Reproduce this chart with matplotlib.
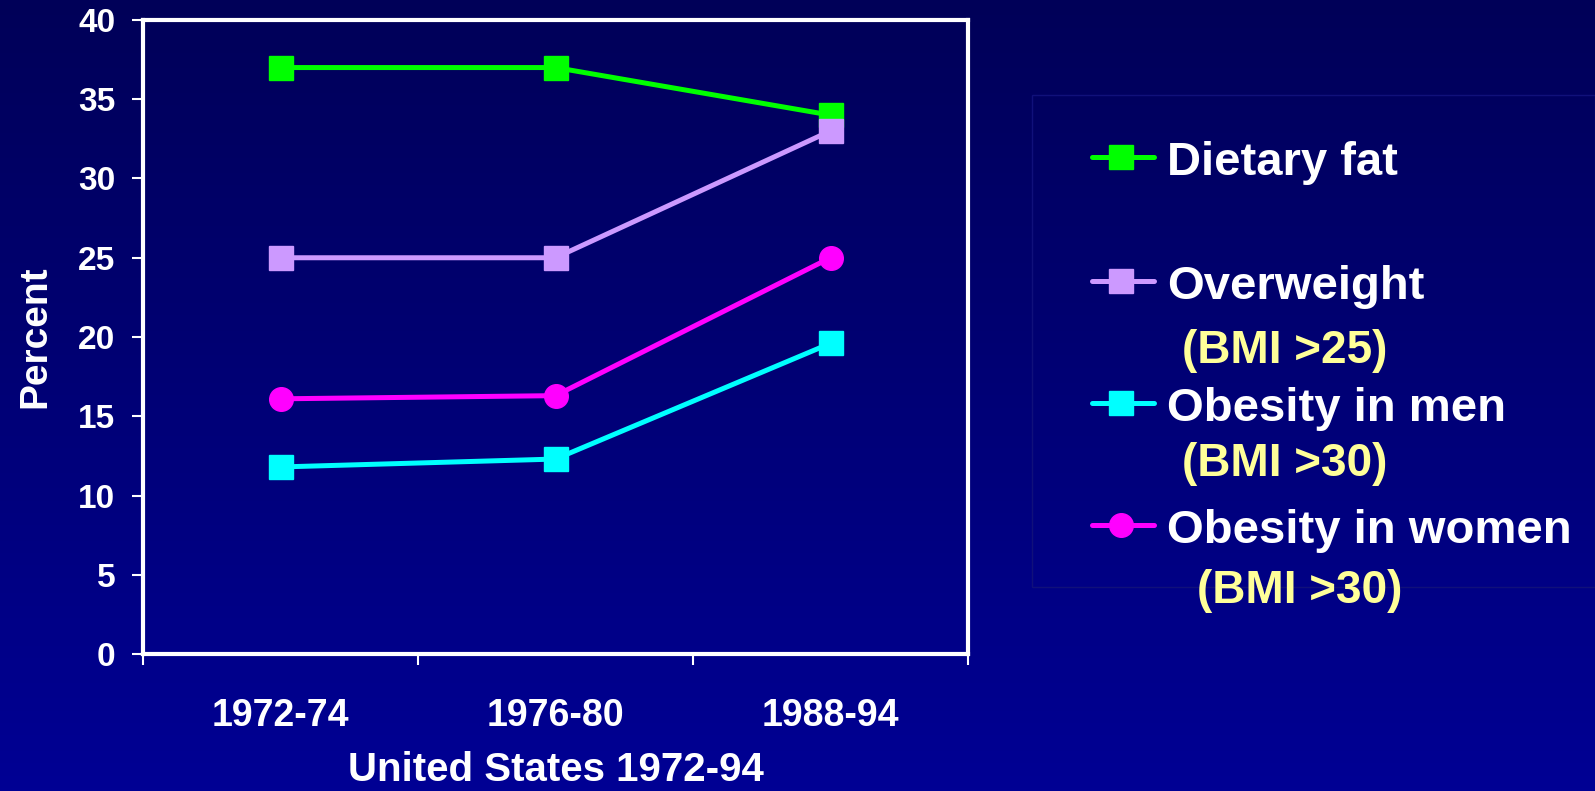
import numpy as np
import matplotlib
matplotlib.use('Agg')
import matplotlib.pyplot as plt
from matplotlib.lines import Line2D
from matplotlib.patches import Rectangle

plt.rcParams['font.family'] = ['Liberation Sans', 'DejaVu Sans']
plt.rcParams['font.weight'] = 'bold'
plt.rcParams['axes.labelweight'] = 'bold'

periods = ['1972-74', '1976-80', '1988-94']
dietary_fat = [37, 37, 34]
overweight = [25, 25, 33]
obesity_men = [11.8, 12.3, 19.6]
obesity_women = [16.1, 16.3, 25.0]

series = [
    ('Dietary fat', dietary_fat, '#00FF00', 's', None),
    ('Overweight', overweight, '#CC99FF', 's', '(BMI >25)'),
    ('Obesity in men', obesity_men, '#00FFFF', 's', '(BMI >30)'),
    ('Obesity in women', obesity_women, '#FF00FF', 'o', '(BMI >30)'),
]

W, H = 1595, 791
fig = plt.figure(figsize=(W / 100, H / 100), dpi=100)

# vertical navy gradient behind everything
bg = fig.add_axes([0, 0, 1, 1], zorder=-10)
top = np.array([0x00, 0x00, 0x58]) / 255
bot = np.array([0x00, 0x00, 0x94]) / 255
t = np.linspace(0, 1, 256)[:, None]
grad = top[None, :] * (1 - t) + bot[None, :] * t
bg.imshow(grad[:, None, :], aspect='auto', extent=[0, 1, 0, 1])
bg.axis('off')

ax = fig.add_axes([143 / W, 1 - 654 / H, (968 - 143) / W, (654 - 20) / H])
ax.set_facecolor('none')

x = np.arange(len(periods))
for name, vals, col, mk, _ in series:
    ax.plot(x, vals, color=col, lw=3.6, marker=mk, ms=17, mec=col, mfc=col, zorder=3)

ax.set_xlim(-0.5, 2.5)
ax.set_ylim(0, 40)
ax.set_yticks(range(0, 41, 5))
ax.set_xticks([-0.5, 0.5, 1.5, 2.5])
ax.set_xticklabels([])
ax.set_xticks(x, minor=True)
ax.set_xticklabels(periods, minor=True)

for s in ax.spines.values():
    s.set_color('white')
    s.set_linewidth(3)
ax.tick_params(axis='both', which='major', colors='white', length=8, width=1.5,
               labelsize=24, direction='out')
ax.tick_params(axis='y', pad=12)
ax.tick_params(axis='x', which='minor', length=0, colors='white', labelsize=27, pad=32)

ax.set_xlabel('United States 1972-94', color='white', fontsize=29, labelpad=12)
ax.set_ylabel('Percent', color='white', fontsize=28, labelpad=18)

# legend panel, built by hand to get the two-colour entries
fig.patches.append(Rectangle((1032 / W, 1 - 587 / H), (W - 1032) / W, (587 - 95) / H,
                             transform=fig.transFigure, facecolor='none',
                             edgecolor='#10107A', lw=1, zorder=1))

handle_y = [157, 281, 403, 525]
note_base = [None, 363, 476, 603]
note_x = [None, 1182, 1182, 1197]
for (name, vals, col, mk, note), hy, nb, nx in zip(series, handle_y, note_base, note_x):
    yy = 1 - hy / H
    fig.add_artist(Line2D([1092 / W, 1154 / W], [yy, yy], transform=fig.transFigure,
                          color=col, lw=3.6, solid_capstyle='round'))
    fig.add_artist(Line2D([1121 / W], [yy], transform=fig.transFigure,
                          marker=mk, ms=17, color=col, mec=col))
    fig.text(1167 / W, 1 - (hy + 18) / H, name, color='white', fontsize=34,
             va='baseline', ha='left')
    if note:
        fig.text(nx / W, 1 - nb / H, note, color='#FFFF99', fontsize=33,
                 va='baseline', ha='left')

fig.savefig('out.png', dpi=100)
